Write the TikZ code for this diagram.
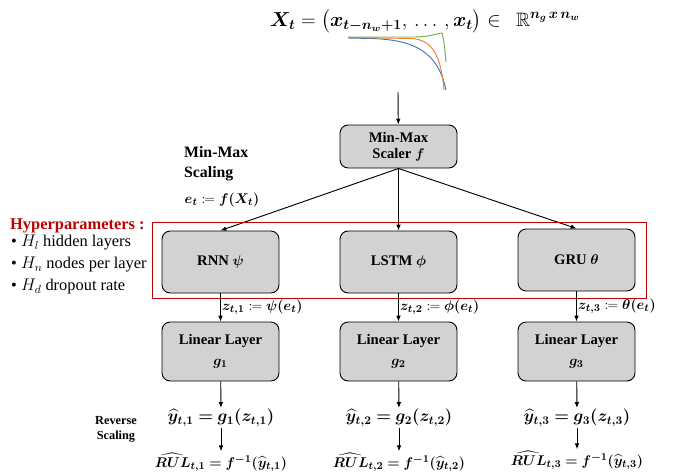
\documentclass[tikz,border=0pt]{standalone}
\usepackage{amsmath}
\usepackage{amssymb}
\usepackage{mathtools}
\usepackage{bm}
\usepackage{fontspec}
\setmainfont{Liberation Serif}
\usetikzlibrary{positioning,arrows.meta}
\definecolor{rojo}{RGB}{192,0,0}
\definecolor{azul}{RGB}{68,114,196}
\definecolor{naranja}{RGB}{237,125,49}
\definecolor{verde}{RGB}{112,173,71}
\tikzstyle{capa} = [draw=black, fill=gray!35, thick, rectangle, rounded corners=7pt, minimum width=3.51cm, minimum height=1.86cm, align=center, font=\fontsize{12.5}{16}\selectfont\bfseries]
\tikzstyle{lineal} = [minimum height=1.77cm]
\tikzstyle{formula} = [inner sep=1pt, font=\fontsize{13}{15}\selectfont]
\tikzstyle{flecha} = [-{Latex[length=5pt,width=4pt]}, thick]

\begin{document}
\begin{tikzpicture}[x=0.03cm, y=-0.03cm]
	\useasboundingbox (0,0) rectangle (679,473);
	% entrada
	\node[formula, font=\fontsize{16.5}{17}\selectfont, inner sep=0pt] (entrada) at (425,21) {$\bm{X_t} = \big(\bm{x_{t-n_w+1}},\, \dots\,, \bm{x_t}\big) \in\ \ \mathbb{R}^{\bm{n_g\,x\,n_w}}$};
	\draw[azul, thick] (348,38) -- (372,38.5) .. controls (415,40) and (438,52) .. (446,90);
	\draw[naranja, thick] (348,37.5) -- (412,38.5) .. controls (432,40) and (441,55) .. (444,90);
	\draw[verde, thick] (348,37) -- (415,37) .. controls (430,37) and (438,33) .. (442,33) .. controls (444,40) and (445,50) .. (446,62);
	\coordinate (senal) at (398,92);
	% escalado
	\node[capa, minimum height=1.29cm] (scaler) at (398.5,146.5) {Min-Max\\[-2pt]Scaler $\bm f$};
	\draw[flecha] (senal) -- (scaler);
	\node[anchor=north west, align=left, font=\fontsize{13.5}{17}\selectfont\bfseries] (minmax) at (180,142) {Min-Max\\Scaling};
	\node[formula] (et) at (222,200) {$\bm{e_t} \coloneqq \bm{f(X_t)}$};
	% modelos
	\node[capa] (rnn) at (220.5,262) {RNN $\bm\psi$};
	\node[capa] (lstm) at (398.5,262) {LSTM $\bm\phi$};
	\node[capa] (gru) at (576.5,260) {GRU $\bm\theta$};
	\draw[flecha] (scaler.south) -- (rnn.north);
	\draw[flecha] (scaler.south) -- (lstm.north);
	\draw[flecha] (scaler.south) -- (gru.north);
	\draw[rojo, thick] (152,222) rectangle (646,298);
	\node[anchor=base west, text=rojo, font=\fontsize{14}{16}\selectfont\bfseries, inner sep=0pt] (hyper) at (10,229) {Hyperparameters :};
	\node[anchor=north west, align=left, inner sep=0pt, font=\fontsize{14}{18.7}\selectfont] (hlist) at (11,235) {\textbullet\ $H_l$ hidden layers\\ \textbullet\ $H_n$ nodes per layer\\ \textbullet\ $H_d$ dropout rate};
	% capas lineales
	\node[capa, lineal] (lin1) at (220.5,351.5) {Linear Layer\\[2pt]$\bm{g_1}$};
	\node[capa, lineal] (lin2) at (398.5,351.5) {Linear Layer\\[2pt]$\bm{g_2}$};
	\node[capa, lineal] (lin3) at (576.5,351.5) {Linear Layer\\[2pt]$\bm{g_3}$};
	\draw[flecha] (rnn) -- node[formula, right, pos=0.5] {$\bm{z_{t,1}} \coloneqq \bm{\psi(e_t)}$} (lin1);
	\draw[flecha] (lstm) -- node[formula, right, pos=0.5] {$\bm{z_{t,2}} \coloneqq \bm{\phi(e_t)}$} (lin2);
	\draw[flecha] (gru) -- node[formula, right, pos=0.5] {$\bm{z_{t,3}} \coloneqq \bm{\theta(e_t)}$} (lin3);
	% salidas
	\node[formula, font=\fontsize{14.5}{16}\selectfont] (y1) at (221,418) {$\bm{\widehat{y}_{t,1} = g_1(z_{t,1})}$};
	\node[formula, font=\fontsize{14.5}{16}\selectfont] (y2) at (399,418) {$\bm{\widehat{y}_{t,2} = g_2(z_{t,2})}$};
	\node[formula, font=\fontsize{14.5}{16}\selectfont] (y3) at (577,418) {$\bm{\widehat{y}_{t,3} = g_3(z_{t,3})}$};
	\node[formula] (rul1) at (221,462) {$\bm{\widehat{RUL}_{t,1} = f^{-1}(\widehat{y}_{t,1})}$};
	\node[formula] (rul2) at (399,462) {$\bm{\widehat{RUL}_{t,2} = f^{-1}(\widehat{y}_{t,2})}$};
	\node[formula] (rul3) at (577,460) {$\bm{\widehat{RUL}_{t,3} = f^{-1}(\widehat{y}_{t,3})}$};
	\foreach \i in {1,2,3}{
		\draw[flecha] (lin\i) -- (y\i);
		\draw[flecha] (y\i) -- (rul\i);
	}
	\node[align=center, font=\fontsize{10.5}{13}\selectfont\bfseries, inner sep=1pt] (reverse) at (116,429) {Reverse\\Scaling};
\end{tikzpicture}
\end{document}
